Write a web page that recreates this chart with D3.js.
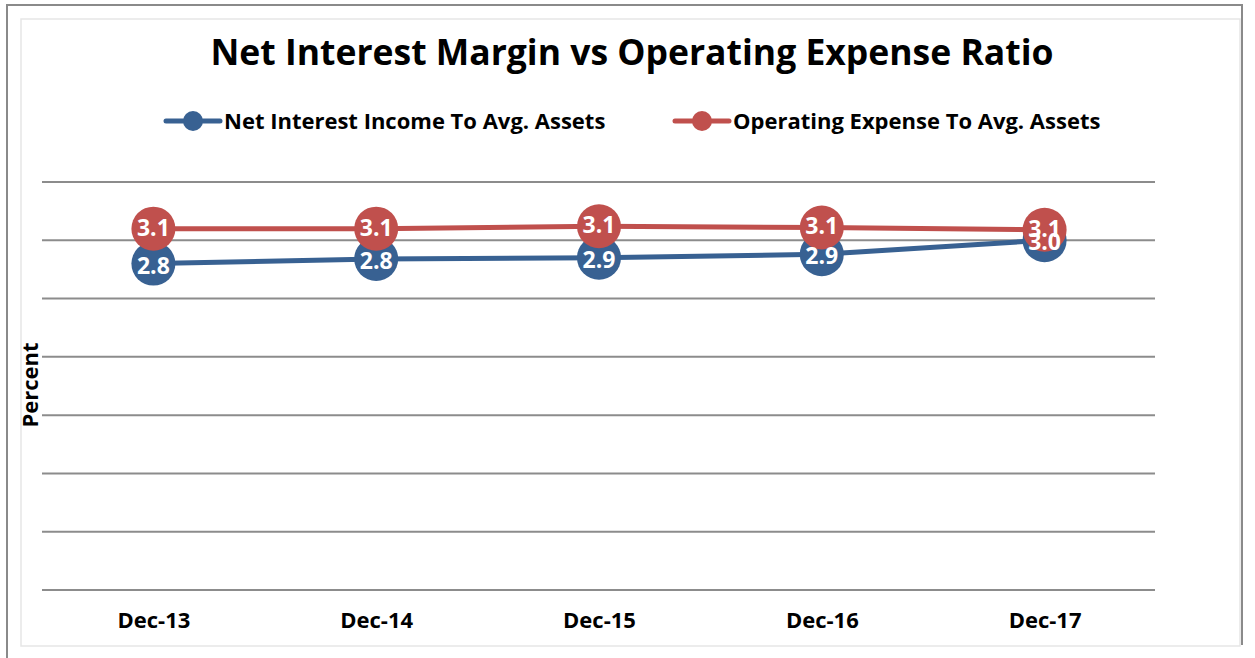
<!DOCTYPE html>
<html>
<head>
<meta charset="utf-8">
<script src="https://cdn.jsdelivr.net/npm/d3@7"></script>
<style>
  body { margin: 0; background: #fff; }
  svg { display: block; font-family: "Open Sans", Lato, sans-serif; }
</style>
</head>
<body>
<script>
// chart data
var categories = ['Dec-13', 'Dec-14', 'Dec-15', 'Dec-16', 'Dec-17'];
var netInterest = [2.80, 2.84, 2.85, 2.88, 3.00];
var opExpense = [3.10, 3.10, 3.12, 3.11, 3.09];
var seriesNames = ['Net Interest Income To Avg. Assets', 'Operating Expense To Avg. Assets'];
var gridTicks = [0, 0.5, 1, 1.5, 2, 2.5, 3, 3.5];

var width = 1255, height = 658;
var colors = ['#386192', '#c0504d'];

var svg = d3.select('body').append('svg')
    .attr('width', width)
    .attr('height', height);

// outer frame
svg.append('path')
    .attr('d', 'M7,660 L7,5 L1242,5 L1242,645')
    .attr('fill', 'none')
    .attr('stroke', '#8a8a8a')
    .attr('stroke-width', 2);
svg.append('rect')
    .attr('x', 21).attr('y', 19)
    .attr('width', 1219).attr('height', 627)
    .attr('fill', 'none')
    .attr('stroke', '#e6e6e6')
    .attr('stroke-width', 1.5);

var x = d3.scalePoint()
    .domain(categories)
    .range([42, 1156])
    .padding(0.5);

var y = d3.scaleLinear()
    .domain([0, 3.5])
    .range([590, 182]);

// grid
svg.append('g')
    .selectAll('line')
    .data(gridTicks)
    .join('line')
    .attr('x1', 42)
    .attr('x2', 1155)
    .attr('y1', function(d) { return y(d); })
    .attr('y2', function(d) { return y(d); })
    .attr('stroke', '#8c8c8c')
    .attr('stroke-width', 2);

// x axis labels
var xAxis = d3.axisBottom(x).tickSize(0).tickPadding(0);
svg.append('g')
    .attr('transform', 'translate(0,612)')
    .call(xAxis)
    .call(function(g) { g.select('.domain').remove(); })
    .selectAll('text')
        .attr('font-family', '"Open Sans", sans-serif')
        .attr('font-size', 22)
        .attr('font-weight', 'bold')
        .attr('fill', '#000');

// title
svg.append('text')
    .attr('x', 632)
    .attr('y', 65)
    .attr('text-anchor', 'middle')
    .attr('font-size', 35.5)
    .attr('font-weight', 'bold')
    .text('Net Interest Margin vs Operating Expense Ratio');

// y axis title
svg.append('text')
    .attr('transform', 'translate(38,385) rotate(-90)')
    .attr('text-anchor', 'middle')
    .attr('font-size', 22)
    .attr('font-weight', 'bold')
    .text('Percent');

// legend
var legendX = [193, 702];
var legend = svg.append('g')
    .selectAll('g')
    .data(seriesNames)
    .join('g')
    .attr('transform', function(d, i) { return 'translate(' + legendX[i] + ',121)'; });

legend.append('line')
    .attr('x1', -27).attr('x2', 27)
    .attr('stroke', function(d, i) { return colors[i]; })
    .attr('stroke-width', 5)
    .attr('stroke-linecap', 'round');
legend.append('circle')
    .attr('r', 10)
    .attr('fill', function(d, i) { return colors[i]; });
legend.append('text')
    .attr('x', 31)
    .attr('y', 8)
    .attr('font-size', 22)
    .attr('font-weight', 'bold')
    .text(function(d) { return d; });

var line = d3.line()
    .x(function(d, i) { return x(categories[i]); })
    .y(function(d) { return y(d); });

var series = [netInterest, opExpense];
var labelShift = [2, -1];

var marks = svg.append('g');
var labels = svg.append('g');

series.forEach(function(values, s) {
    var g = marks.append('g');
    g.append('path')
        .datum(values)
        .attr('d', line)
        .attr('fill', 'none')
        .attr('stroke', colors[s])
        .attr('stroke-width', 5);

    g.selectAll('circle')
        .data(values)
        .join('circle')
        .attr('cx', function(d, i) { return x(categories[i]); })
        .attr('cy', function(d) { return y(d); })
        .attr('r', 22)
        .attr('fill', colors[s]);

    labels.append('g')
        .selectAll('text')
        .data(values)
        .join('text')
        .attr('x', function(d, i) { return x(categories[i]); })
        .attr('y', function(d) { return y(d) + 8 + labelShift[s]; })
        .attr('text-anchor', 'middle')
        .attr('fill', '#fff')
        .attr('font-size', 23)
        .attr('font-weight', 'bold')
        .text(function(d) { return d.toFixed(1); });
});
</script>
</body>
</html>
